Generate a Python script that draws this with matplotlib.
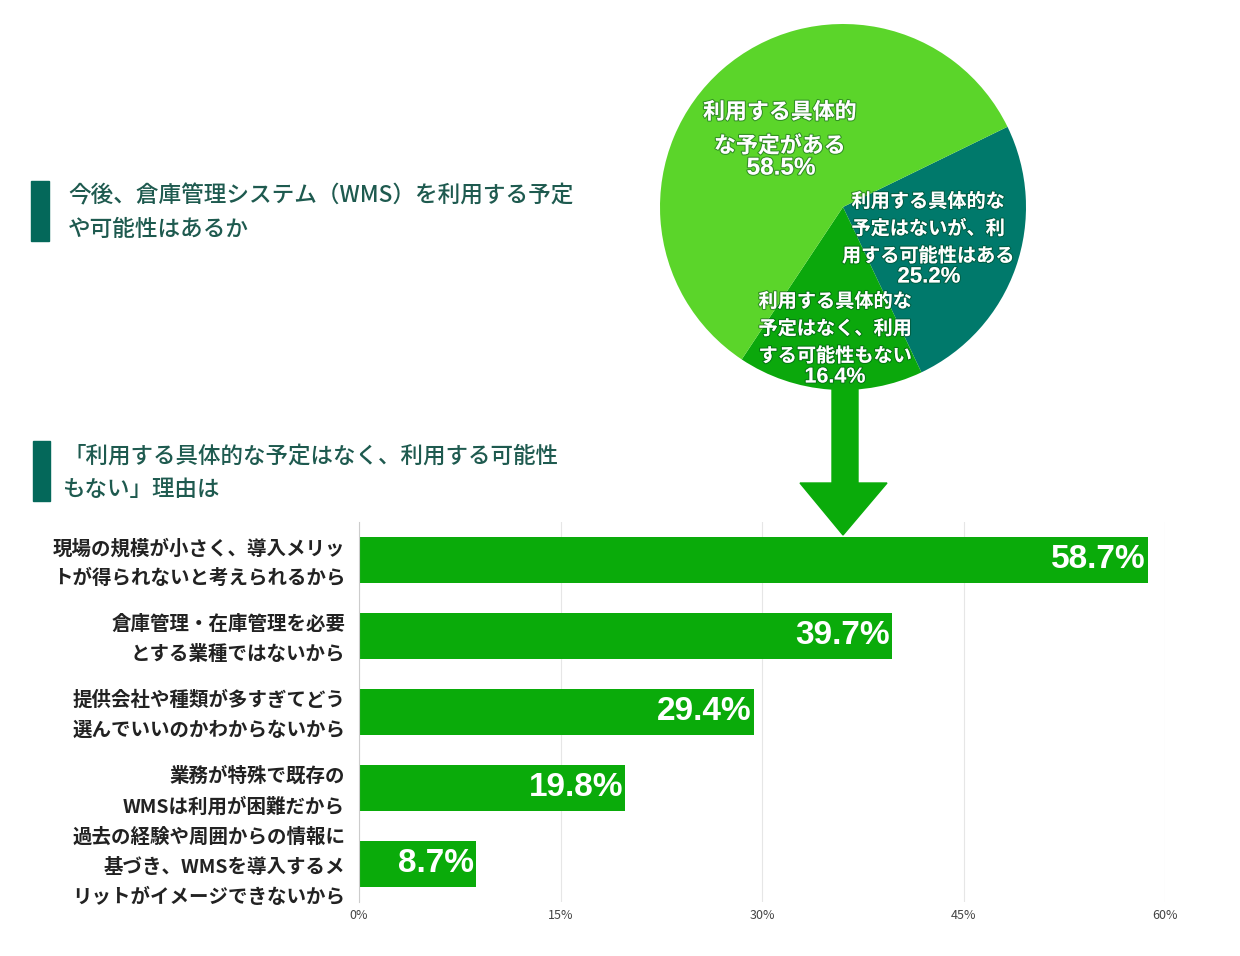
import numpy as np
import matplotlib
matplotlib.use("Agg")
import matplotlib.pyplot as plt
import matplotlib.patheffects as pe
import matplotlib.transforms as mtransforms
from matplotlib.patches import Polygon, Rectangle

plt.rcParams['font.family'] = ['Noto Sans CJK JP', 'DejaVu Sans']

# pie data (clockwise from the upper right boundary)
pie_labels = ['利用する具体的な\n予定はないが、利\n用する可能性はある',
              '利用する具体的な\n予定はなく、利用\nする可能性もない',
              '利用する具体的\nな予定がある']
pie_values = [25.2, 16.4, 58.5]
pie_colors = ['#00796b', '#0ba80c', '#5bd52a']
# label centre / percent position, pixel offsets from pie centre
pie_text_off = [(85, 22), (-8, 122), (-63, -78)]
pie_pct_off = [(86, 70), (-8, 170), (-62, -39)]
pie_label_size = [13.8, 13.8, 15.8]
pie_pct_size = [16, 15.5, 17.5]

# bar data
bar_labels = ['現場の規模が小さく、導入メリッ\nトが得られないと考えられるから',
              '倉庫管理・在庫管理を必要\nとする業種ではないから',
              '提供会社や種類が多すぎてどう\n選んでいいのかわからないから',
              '業務が特殊で既存の\nWMSは利用が困難だから',
              '過去の経験や周囲からの情報に\n基づき、WMSを導入するメ\nリットがイメージできないから']
bar_values = [58.7, 39.7, 29.4, 19.8, 8.7]
xticks = [0, 15, 30, 45, 60]

W, H = 1240, 956
fig = plt.figure(figsize=(W / 100, H / 100), dpi=100)

def fx(px):
    return px / W

def fy(py):
    return 1 - py / H

title_color = '#1e5a4f'
mark_color = '#04685a'

# section titles with markers
fig.patches.append(Rectangle((fx(31), fy(241)), fx(18), 60 / H, transform=fig.transFigure,
                             color=mark_color))
fig.text(fx(68), fy(196), '今後、倉庫管理システム（WMS）を利用する予定', fontsize=16.3,
         color=title_color, fontweight='medium', va='center')
fig.text(fx(68), fy(229), 'や可能性はあるか', fontsize=16.3,
         color=title_color, fontweight='medium', va='center')

fig.patches.append(Rectangle((fx(33), fy(501)), fx(17), 60 / H, transform=fig.transFigure,
                             color=mark_color))
fig.text(fx(63), fy(456), '「利用する具体的な予定はなく、利用する可能性', fontsize=16.2,
         color=title_color, fontweight='medium', va='center')
fig.text(fx(63), fy(489), 'もない」理由は', fontsize=16.2,
         color=title_color, fontweight='medium', va='center')

# pie
r = 183
cx, cy = 843, 207
axp = fig.add_axes([fx(cx - r), fy(cy + r), 2 * r / W, 2 * r / H])
axp.pie(pie_values, colors=pie_colors, startangle=26, counterclock=False, radius=1)
axp.set_xlim(-1, 1)
axp.set_ylim(-1, 1)
axp.set_aspect('equal')
axp.axis('off')
shadow = [pe.withStroke(linewidth=1.6, foreground=(0, 0.25, 0.1, 0.45))]
for lab, v, (tx, ty), (px, py), fs, ps in zip(pie_labels, pie_values, pie_text_off,
                                              pie_pct_off, pie_label_size, pie_pct_size):
    nl = lab.count('\n') + 1
    axp.text(tx / r, -ty / r, lab, ha='center', va='center', color='white',
             fontsize=fs, fontweight='bold', linespacing=1.55 if nl == 3 else 1.6,
             path_effects=shadow)
    axp.text(px / r, -py / r, f'{v}%', ha='center', va='center', color='white',
             fontsize=ps, fontweight='bold', family=['Liberation Sans', 'DejaVu Sans'],
             path_effects=shadow)

# arrow
arrow_color = '#0aab0a'
arrow = Polygon([(fx(832), fy(388)), (fx(858), fy(388)), (fx(858), fy(483)),
                 (fx(887), fy(483)), (fx(843), fy(535)), (fx(800), fy(483)),
                 (fx(832), fy(483))], closed=True, transform=fig.transFigure,
                color=arrow_color, zorder=0)
fig.patches.append(arrow)

# bars
axb = fig.add_axes([fx(359), fy(902), 806 / W, 380 / H])
y = np.arange(len(bar_values))
axb.barh(y, bar_values, height=0.6, color='#0aab0a', zorder=2)
axb.set_ylim(len(bar_values) - 0.5, -0.5)
axb.set_xlim(0, 60)
axb.set_xticks(xticks)
axb.set_xticklabels([f'{t}%' for t in xticks], fontsize=9, color='#444444')
axb.tick_params(axis='x', length=0, pad=5)
axb.set_yticks(y)
axb.set_yticklabels(bar_labels, fontsize=14, fontweight='bold', color='#222222',
                    linespacing=1.7)
axb.tick_params(axis='y', length=0, pad=10)
shift_up = mtransforms.ScaledTranslation(0, 4 / 100, fig.dpi_scale_trans)
for lab in axb.get_yticklabels():
    lab.set_horizontalalignment('right')
    lab.set_multialignment('right')
    lab.set_transform(lab.get_transform() + shift_up)
axb.grid(axis='x', color='#e6e6e6', linewidth=0.8, zorder=0)
for s in ['top', 'right', 'bottom']:
    axb.spines[s].set_visible(False)
axb.spines['left'].set_color('#cccccc')
axb.spines['left'].set_linewidth(0.8)
for yi, v in zip(y, bar_values):
    axb.text(v - 0.15, yi, f'{v}%', ha='right', va='center', color='white',
             fontsize=24, fontweight='bold', family=['Liberation Sans', 'DejaVu Sans'],
             zorder=3)

fig.savefig('out.png', dpi=100, facecolor='white')
